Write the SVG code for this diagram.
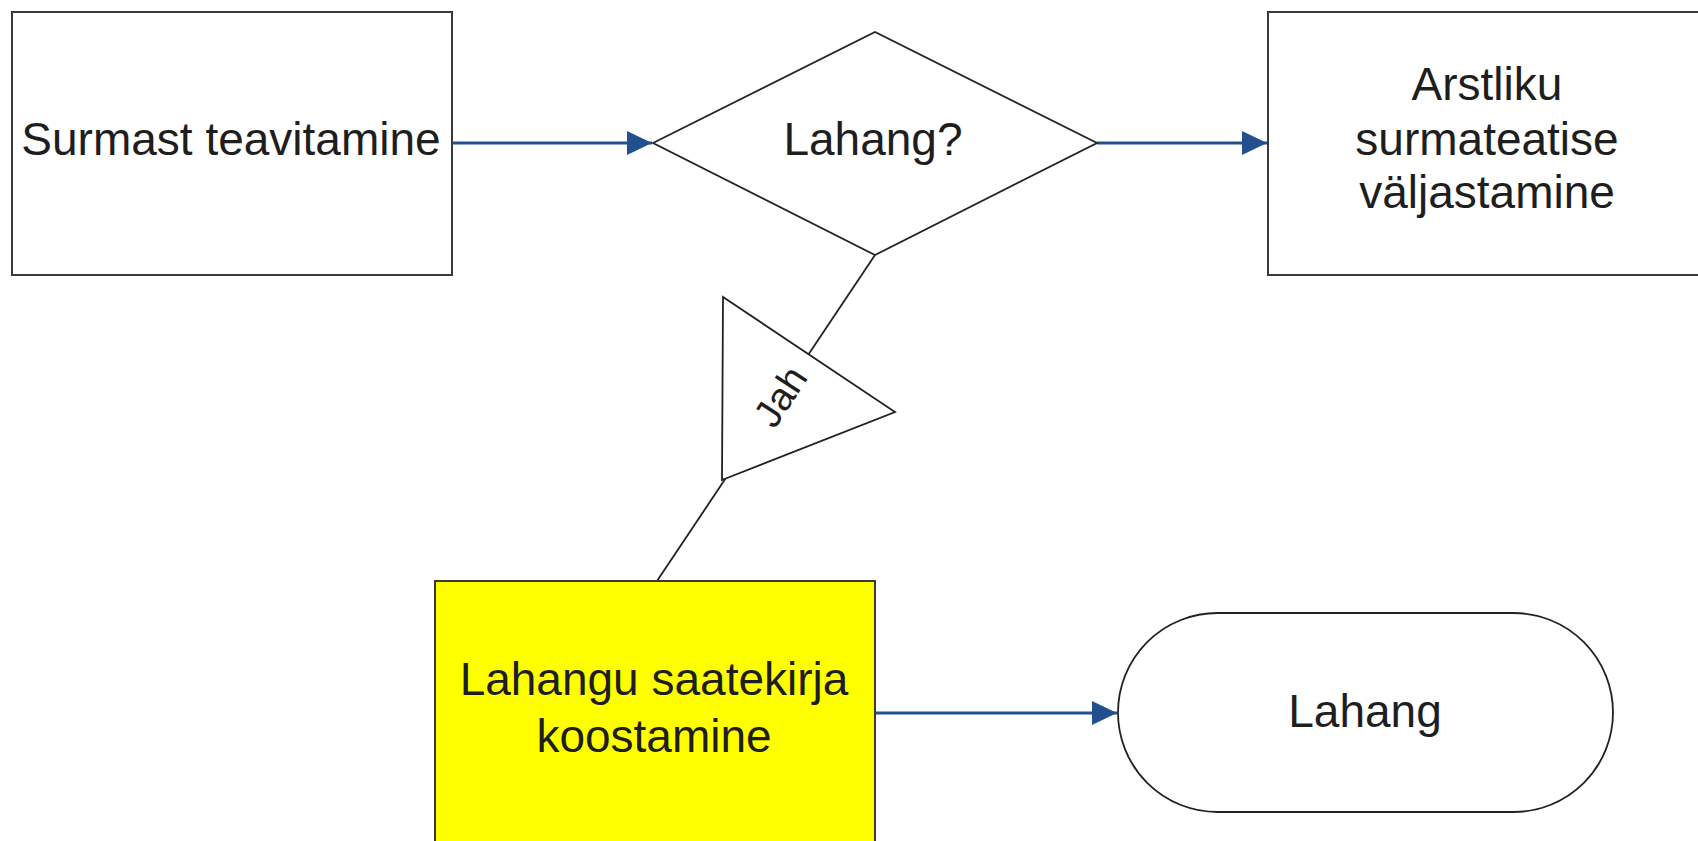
<svg xmlns="http://www.w3.org/2000/svg" width="1698" height="841" viewBox="0 0 1698 841">
<style>
.box{fill:#ffffff;stroke:#3a3a3a;stroke-width:2}
.shape{fill:#ffffff;stroke:#222222;stroke-width:1.8}
.lbl{font-family:"Liberation Sans",Arial,sans-serif;font-size:46px;fill:#1e1e1e;text-anchor:middle}
.arrow{fill:none;stroke:#22508f;stroke-width:3}
.plain{fill:none;stroke:#222222;stroke-width:1.8}
</style>
<defs>
<marker id="ah" markerUnits="userSpaceOnUse" markerWidth="26" markerHeight="24" refX="25" refY="12" orient="auto">
<path d="M0,0 L25,12 L0,24 Z" fill="#22508f"/>
</marker>
</defs>
<rect width="1698" height="841" fill="#ffffff"/>
<g id="connectors">
<line class="arrow" x1="452" y1="143" x2="652" y2="143" marker-end="url(#ah)"/>
<line class="arrow" x1="1097" y1="143" x2="1267" y2="143" marker-end="url(#ah)"/>
<line class="plain" x1="875" y1="255" x2="657" y2="581"/>
<line class="arrow" x1="875" y1="713" x2="1117" y2="713" marker-end="url(#ah)"/>
</g>
<g id="node-surmast">
<rect class="box" x="12" y="12" width="440" height="263"/>
<text class="lbl" x="231" y="155">Surmast teavitamine</text>
</g>
<g id="node-lahang-decision">
<polygon class="shape" points="653,143 875,32 1097,143 875,255"/>
<text class="lbl" x="873" y="155">Lahang?</text>
</g>
<g id="node-arstliku">
<rect class="box" x="1268" y="12" width="440" height="263"/>
<text class="lbl" x="1487" y="100">Arstliku</text>
<text class="lbl" x="1487" y="155">surmateatise</text>
<text class="lbl" x="1487" y="208">väljastamine</text>
</g>
<g id="label-jah">
<polygon class="shape" points="723,297 895,412 722,480"/>
<text class="lbl" x="0" y="0" style="font-size:39px" transform="translate(780,396) rotate(-57) translate(0,14)">Jah</text>
</g>
<g id="node-saatekiri">
<rect x="435" y="581" width="440" height="270" fill="#ffff00" stroke="#3a3a3a" stroke-width="2"/>
<text class="lbl" x="654" y="695">Lahangu saatekirja</text>
<text class="lbl" x="654" y="752">koostamine</text>
</g>
<g id="node-lahang-end">
<rect class="shape" x="1118" y="613" width="495" height="199" rx="99.5" ry="99.5"/>
<text class="lbl" x="1365" y="727">Lahang</text>
</g>
</svg>
